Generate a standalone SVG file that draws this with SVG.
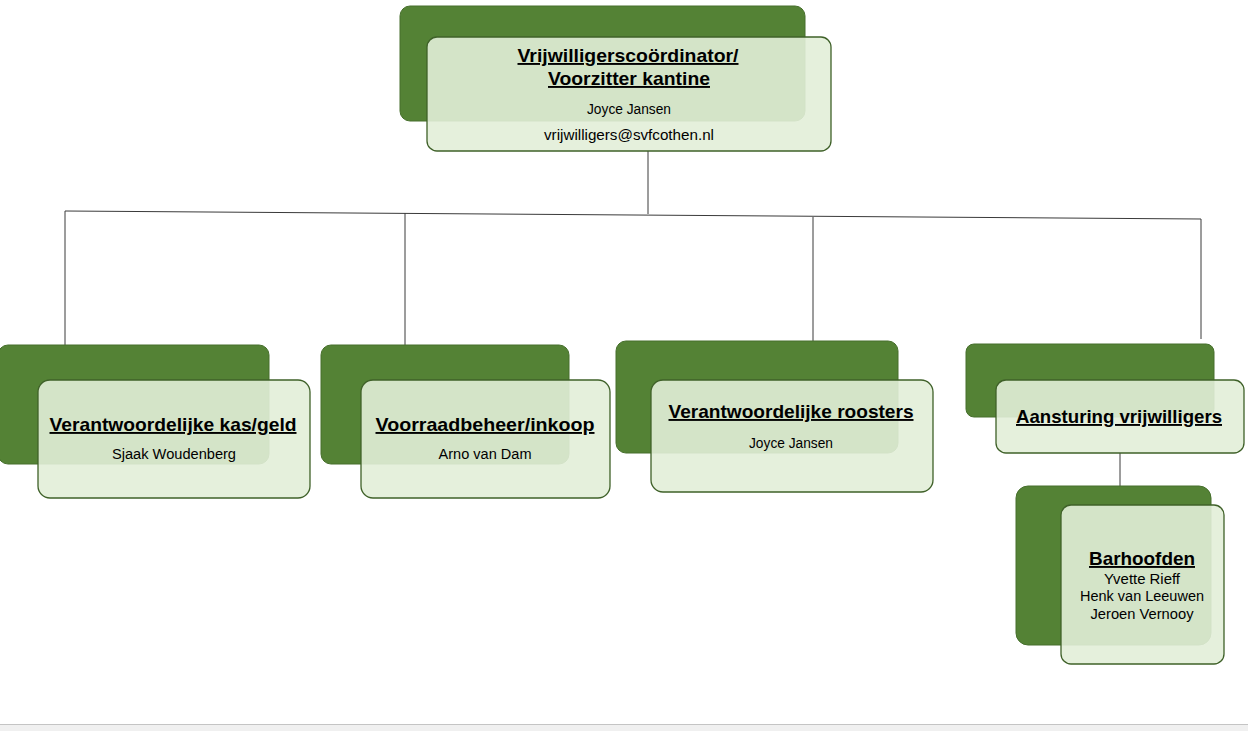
<svg xmlns="http://www.w3.org/2000/svg" width="1248" height="731" viewBox="0 0 1248 731">
<style>
.dk{fill:#548235;stroke:#466f2c;stroke-width:1}
.lt{fill:#e2eed8;fill-opacity:0.9;stroke:#3f6129;stroke-width:1.3}
.t{font-family:"Liberation Sans",Arial,sans-serif;font-weight:bold;font-size:19px;fill:#000;text-anchor:middle;text-decoration:underline}
.s{font-family:"Liberation Sans",Arial,sans-serif;font-size:14px;fill:#000;text-anchor:middle}
.c{stroke:#3a3a3a;stroke-width:1;fill:none}
</style>
<rect width="1248" height="731" fill="#fff"/>
<g id="connectors">
<line class="c" x1="648" y1="151" x2="648" y2="214"/>
<line class="c" x1="65" y1="211" x2="1201" y2="219"/>
<line class="c" x1="65" y1="211" x2="65" y2="349"/>
<line class="c" x1="405" y1="213" x2="405" y2="345"/>
<line class="c" x1="813" y1="217" x2="813" y2="342"/>
<line class="c" x1="1201" y1="219" x2="1201" y2="339"/>
<line class="c" x1="1120" y1="453" x2="1120" y2="492"/>
</g>
<g id="node-top">
<rect class="dk" x="400" y="6" width="405" height="115" rx="10"/>
<rect class="lt" x="427" y="37" width="404" height="114" rx="10"/>
<text class="t" x="628" y="62" textLength="221" lengthAdjust="spacingAndGlyphs">Vrijwilligerscoördinator/</text>
<text class="t" x="629" y="85" textLength="162" lengthAdjust="spacingAndGlyphs">Voorzitter kantine</text>
<text class="s" x="629" y="114" textLength="84" lengthAdjust="spacingAndGlyphs">Joyce Jansen</text>
<text class="s" x="629" y="140" textLength="170" lengthAdjust="spacingAndGlyphs">vrijwilligers@svfcothen.nl</text>
</g>
<g id="node-kas">
<rect class="dk" x="-2" y="345" width="271" height="119" rx="10"/>
<rect class="lt" x="38" y="380" width="272" height="118" rx="12"/>
<text class="t" x="173" y="431" textLength="247" lengthAdjust="spacingAndGlyphs">Verantwoordelijke kas/geld</text>
<text class="s" x="174" y="459" textLength="124" lengthAdjust="spacingAndGlyphs">Sjaak Woudenberg</text>
</g>
<g id="node-voorraad">
<rect class="dk" x="321" y="345" width="248" height="119" rx="10"/>
<rect class="lt" x="361" y="380" width="249" height="118" rx="12"/>
<text class="t" x="485" y="431" textLength="219" lengthAdjust="spacingAndGlyphs">Voorraadbeheer/inkoop</text>
<text class="s" x="485" y="459" textLength="93" lengthAdjust="spacingAndGlyphs">Arno van Dam</text>
</g>
<g id="node-roosters">
<rect class="dk" x="616" y="341" width="282" height="112" rx="10"/>
<rect class="lt" x="651" y="380" width="282" height="112" rx="12"/>
<text class="t" x="791" y="418" textLength="245" lengthAdjust="spacingAndGlyphs">Verantwoordelijke roosters</text>
<text class="s" x="791" y="448" textLength="84" lengthAdjust="spacingAndGlyphs">Joyce Jansen</text>
</g>
<g id="node-aansturing">
<rect class="dk" x="966" y="344" width="248" height="73" rx="8"/>
<rect class="lt" x="996" y="380" width="248" height="73" rx="10"/>
<text class="t" x="1119" y="423" textLength="206" lengthAdjust="spacingAndGlyphs">Aansturing vrijwilligers</text>
</g>
<g id="node-barhoofden">
<rect class="dk" x="1016" y="486" width="195" height="159" rx="12"/>
<rect class="lt" x="1061" y="505" width="163" height="159" rx="10"/>
<text class="t" x="1142" y="565" textLength="106" lengthAdjust="spacingAndGlyphs">Barhoofden</text>
<text class="s" x="1142" y="584" textLength="76" lengthAdjust="spacingAndGlyphs">Yvette Rieff</text>
<text class="s" x="1142" y="601" textLength="124" lengthAdjust="spacingAndGlyphs">Henk van Leeuwen</text>
<text class="s" x="1142" y="619" textLength="103" lengthAdjust="spacingAndGlyphs">Jeroen Vernooy</text>
</g>
<rect x="0" y="724" width="1248" height="7" fill="#f0f0f0"/>
<line x1="0" y1="724.5" x2="1248" y2="724.5" stroke="#c4c4c4" stroke-width="1"/>
</svg>
